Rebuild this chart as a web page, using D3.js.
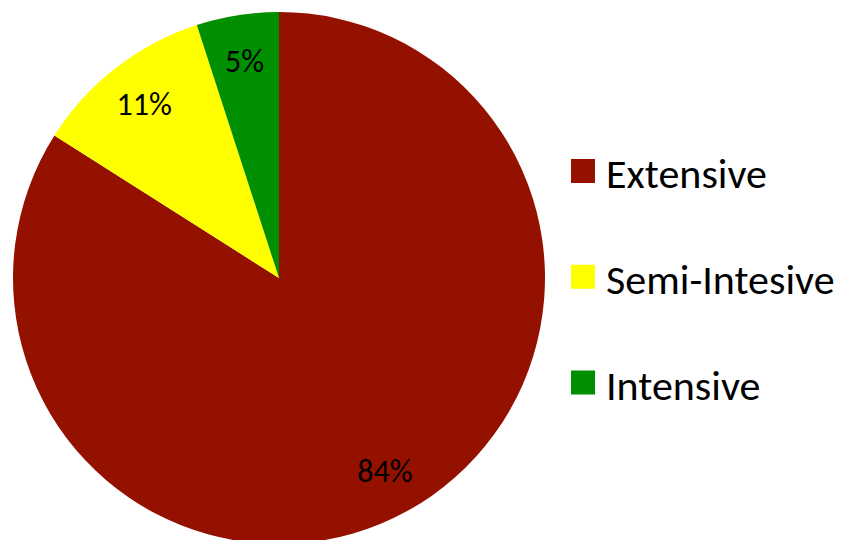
<!DOCTYPE html>
<html>
<head>
<meta charset="utf-8">
<script src="https://cdn.jsdelivr.net/npm/d3@7"></script>
<style>
  html, body { margin: 0; padding: 0; background: #fff; }
  svg { display: block; }
</style>
</head>
<body>
<div id="chart"></div>
<script>
// data ---------------------------------------------------------------
const categories = ['Extensive', 'Semi-Intesive', 'Intensive'];
const shares = [84, 11, 5];
const colors = ['#941100', '#FFFF00', '#008F00'];

// layout -------------------------------------------------------------
const width = 843;
const height = 540;
const cx = 279;
const cy = 278;
const radius = 266;
const labelRadius = 220;
const fontFamily = 'Carlito, Calibri, Lato, sans-serif';

const svg = d3.select('#chart').append('svg')
  .attr('width', width)
  .attr('height', height);

const pie = d3.pie().sort(null).value(d => d);
const arcs = pie(shares);
const arc = d3.arc().innerRadius(0).outerRadius(radius);
const labelArc = d3.arc().innerRadius(labelRadius).outerRadius(labelRadius);

const g = svg.append('g').attr('transform', 'translate(' + cx + ',' + cy + ')');

// slices
g.selectAll('path.slice')
  .data(arcs)
  .enter()
  .append('path')
  .attr('class', 'slice')
  .attr('d', arc)
  .attr('fill', (d, i) => colors[i]);

// percent labels (baseline shifted so digits sit centred on the point)
g.selectAll('text.pct')
  .data(arcs)
  .enter()
  .append('text')
  .attr('class', 'pct')
  .attr('transform', d => 'translate(' + labelArc.centroid(d) + ')')
  .attr('y', 11)
  .attr('text-anchor', 'middle')
  .attr('font-family', fontFamily)
  .attr('font-size', '32px')
  .attr('fill', '#000')
  .text(d => d.data + '%');

// legend
const legendY = d3.scalePoint()
  .domain(categories)
  .range([171, 382.5]);

const legend = svg.append('g')
  .selectAll('g')
  .data(categories)
  .enter()
  .append('g')
  .attr('transform', d => 'translate(571,' + legendY(d) + ')');

legend.append('rect')
  .attr('x', 0)
  .attr('y', -12)
  .attr('width', 24)
  .attr('height', 24)
  .attr('fill', (d, i) => colors[i]);

legend.append('text')
  .attr('x', 35)
  .attr('y', 17)
  .attr('font-family', fontFamily)
  .attr('font-size', '42px')
  .attr('fill', '#000')
  .text(d => d);
</script>
</body>
</html>
